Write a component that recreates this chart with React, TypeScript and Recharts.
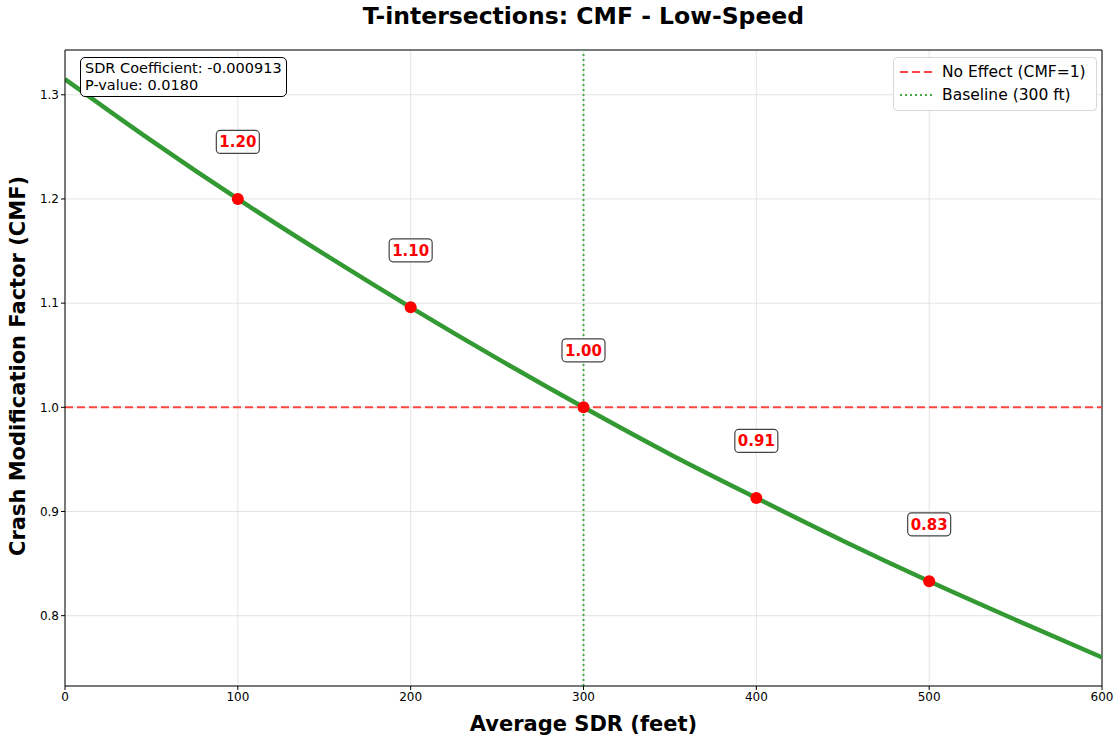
import {
  CartesianGrid,
  ComposedChart,
  Line,
  ReferenceLine,
  Scatter,
  XAxis,
  YAxis,
} from 'recharts';

// CMF curve, every 50 ft
const curveSdr = [0, 50, 100, 150, 200, 250, 300, 350, 400, 450, 500, 550, 600];
const curveCmf = [1.315, 1.256, 1.2, 1.147, 1.096, 1.047, 1.0, 0.955, 0.913, 0.872, 0.833, 0.796, 0.76];

// marked points and their labels
const pointSdr = [100, 200, 300, 400, 500];
const pointCmf = [1.2, 1.096, 1.0, 0.913, 0.833];
const pointLabels = ['1.20', '1.10', '1.00', '0.91', '0.83'];

const xTicks = [0, 100, 200, 300, 400, 500, 600];
const yTicks = [0.8, 0.9, 1.0, 1.1, 1.2, 1.3];
const xDomain = [0, 600];
const yDomain = [0.7325, 1.343];

const sdrCoefficient = '-0.000913';
const pValue = '0.0180';

const font = '"DejaVu Sans", sans-serif';
const green = '#339933';

const curveData = curveSdr.map((x, i) => ({ x, y: curveCmf[i] }));
const pointData = pointSdr.map((x, i) => ({ x, y: pointCmf[i], label: pointLabels[i] }));

function PointWithLabel(props: any) {
  const { cx, cy, payload } = props;
  if (cx == null || cy == null) return null;
  const ly = cy - 57;
  return (
    <g>
      <circle cx={cx} cy={cy} r={6} fill="#ff0000" />
      <rect x={cx - 21.5} y={ly - 11.5} width={43} height={23} rx={4} fill="#fff" stroke="#444" strokeWidth={1.2} />
      <text x={cx} y={ly + 5.5} textAnchor="middle" fontFamily={font} fontSize={15} fontWeight="bold" fill="#ff0000">
        {payload.label}
      </text>
    </g>
  );
}

export default function App() {
  return (
    <div style={{ position: 'absolute', left: 0, top: 0, width: 1118, height: 736, background: '#fff', fontFamily: font }}>
      <div style={{ position: 'absolute', left: 0, width: 1167, top: 2, textAlign: 'center', fontSize: 23.5, fontWeight: 'bold' }}>
        T-intersections: CMF - Low-Speed
      </div>
      <ComposedChart width={1118} height={736} margin={{ top: 50, right: 16, bottom: 0, left: 0 }}>
        <CartesianGrid stroke="#dddddd" strokeWidth={0.8} />
        <XAxis
          dataKey="x"
          type="number"
          domain={xDomain}
          ticks={xTicks}
          allowDataOverflow
          height={50}
          stroke="#000"
          tick={{ fontSize: 12, fill: '#000', fontFamily: font }}
          tickSize={4}
          label={{ value: 'Average SDR (feet)', position: 'insideBottom', offset: 5, fontSize: 21, fontWeight: 'bold', fill: '#000', fontFamily: font }}
        />
        <YAxis
          dataKey="y"
          type="number"
          domain={yDomain}
          ticks={yTicks}
          allowDataOverflow
          width={65}
          stroke="#000"
          tickSize={4}
          tickFormatter={(v: number) => v.toFixed(1)}
          tick={{ fontSize: 12, fill: '#000', fontFamily: font }}
          label={{ value: 'Crash Modification Factor (CMF)', angle: -90, position: 'insideLeft', offset: 18, dy: 188, fontSize: 21, fontWeight: 'bold', fill: '#000', fontFamily: font }}
        />
        <ReferenceLine y={yDomain[1]} stroke="#000" strokeWidth={1} />
        <ReferenceLine x={xDomain[1]} stroke="#000" strokeWidth={1} />
        <ReferenceLine y={1} stroke="#ff4444" strokeWidth={2} strokeDasharray="8 4" />
        <ReferenceLine x={300} stroke="#44aa44" strokeWidth={2} strokeDasharray="2 3" />
        <Line
          data={curveData}
          dataKey="y"
          type="monotone"
          stroke={green}
          strokeWidth={4.5}
          dot={false}
          activeDot={false}
          isAnimationActive={false}
        />
        <Scatter data={pointData} dataKey="y" shape={<PointWithLabel />} isAnimationActive={false} />
      </ComposedChart>
      <div
        style={{
          position: 'absolute',
          left: 80,
          top: 57,
          border: '1px solid #000',
          borderRadius: 5,
          background: '#fff',
          padding: '2px 4px',
          fontSize: 14.5,
          lineHeight: '17px',
        }}
      >
        <div>SDR Coefficient: {sdrCoefficient}</div>
        <div>P-value: {pValue}</div>
      </div>
      <div
        style={{
          position: 'absolute',
          left: 893,
          top: 57,
          width: 204,
          height: 54,
          border: '1px solid #d8d8d8',
          borderRadius: 4,
          background: '#fff',
          fontSize: 15.5,
          boxSizing: 'border-box',
        }}
      >
        <div style={{ position: 'absolute', left: 6, top: 5, display: 'flex', alignItems: 'center' }}>
          <svg width={36} height={10}>
            <line x1={0} y1={5} x2={32} y2={5} stroke="#ff4444" strokeWidth={2} strokeDasharray="8 4" />
          </svg>
          <span style={{ marginLeft: 6 }}>No Effect (CMF=1)</span>
        </div>
        <div style={{ position: 'absolute', left: 6, top: 28, display: 'flex', alignItems: 'center' }}>
          <svg width={36} height={10}>
            <line x1={0} y1={5} x2={32} y2={5} stroke="#44aa44" strokeWidth={2} strokeDasharray="2 3" />
          </svg>
          <span style={{ marginLeft: 6 }}>Baseline (300 ft)</span>
        </div>
      </div>
    </div>
  );
}
